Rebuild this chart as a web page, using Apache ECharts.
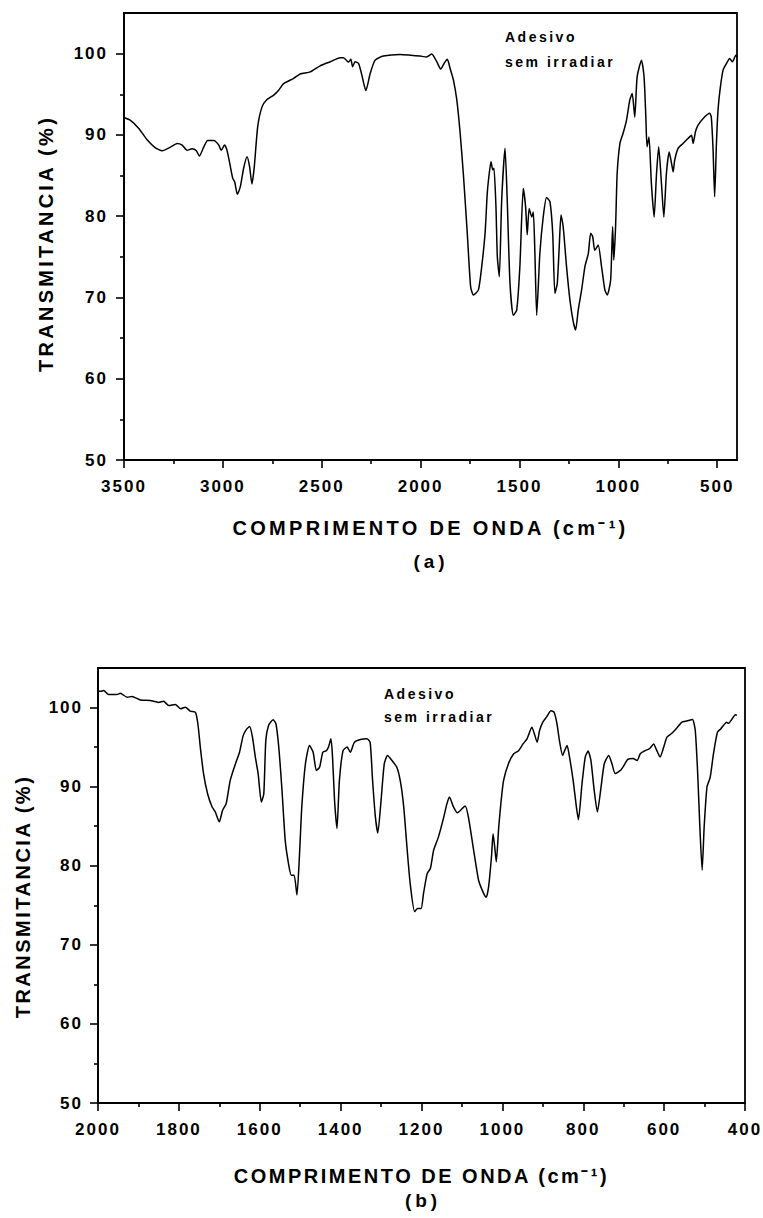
<!DOCTYPE html>
<html>
<head>
<meta charset="utf-8">
<script src="https://cdn.jsdelivr.net/npm/echarts@6/dist/echarts.min.js"></script>
<style>
  html, body { margin: 0; padding: 0; background: #fff; }
  #chart { width: 763px; height: 1218px; }
  /* spaced-out lettering, keyed on the font size of each text group (SVG renderer) */
  #chart text[style*="17px"] { letter-spacing: 2px; }
  #chart text[style*="20px"] { letter-spacing: 3.3px; }
  #chart text[style*="20.01px"] { letter-spacing: 2.5px; }
  #chart text[style*="14px"] { letter-spacing: 2.5px; }
  #chart text[style*="19px"] { letter-spacing: 4px; }
</style>
</head>
<body>
<div id="chart"></div>
<script>
// FTIR spectrum, full range (panel a)
const wavenumberA = [
  3500, 3467, 3425, 3383, 3341, 3307, 3265, 3231, 3206, 3181, 3156, 3134, 3119, 3097, 3077, 3046,
  3021, 3008, 2992, 2979, 2962, 2950, 2940, 2927, 2912, 2895, 2878, 2865, 2853, 2841, 2824, 2802,
  2777, 2743, 2718, 2693, 2642, 2609, 2558, 2508, 2457, 2407, 2390, 2365, 2353, 2344, 2331, 2314,
  2297, 2277, 2255, 2230, 2188, 2104, 2050, 2003, 1970, 1944, 1918, 1898, 1881, 1865, 1851, 1834,
  1817, 1800, 1784, 1764, 1747, 1733, 1708, 1691, 1674, 1663, 1653, 1644, 1635, 1629, 1619, 1612,
  1602, 1590, 1573, 1562, 1548, 1531, 1514, 1498, 1481, 1469, 1461, 1451, 1438, 1430, 1422, 1413,
  1397, 1380, 1363, 1346, 1332, 1321, 1309, 1299, 1290, 1279, 1262, 1245, 1228, 1216, 1203, 1186,
  1169, 1152, 1140, 1130, 1119, 1102, 1085, 1068, 1056, 1039, 1029, 1023, 1014, 1006, 992, 976,
  959, 942, 930, 917, 905, 883, 870, 861, 855, 845, 833, 819, 807, 796, 782, 770,
  757, 743, 731, 723, 715, 698, 673, 648, 630, 622, 610, 597, 572, 538, 530, 521,
  513, 504, 496, 484, 470, 453, 437, 423, 406, 400
];
const transmittanceA = [
  92.15, 91.8, 90.8, 89.4, 88.4, 88.05, 88.5, 88.95, 88.75, 88.1, 88.3, 88.05, 87.4, 88.5, 89.3, 89.3,
  88.75, 88.1, 88.75, 88.1, 86.1, 84.65, 84.2, 82.7, 83.6, 85.9, 87.3, 86.1, 83.95, 86.1, 91.0, 93.45,
  94.35, 94.9, 95.5, 96.3, 96.95, 97.5, 97.75, 98.5, 99.0, 99.5, 99.5, 98.95, 99.3, 98.4, 99.0, 98.8,
  97.35, 95.45, 97.55, 99.2, 99.7, 99.9, 99.8, 99.7, 99.6, 99.95, 99.0, 98.1, 98.8, 99.3, 98.2, 96.75,
  94.3, 90.2, 85.25, 77.9, 71.3, 70.3, 70.9, 73.8, 77.9, 82.8, 85.25, 86.7, 85.7, 85.9, 81.15, 75.0,
  72.55, 82.0, 88.35, 82.0, 71.75, 67.8, 68.45, 73.8, 83.4, 81.15, 77.7, 80.95, 79.9, 80.5, 75.4, 67.8,
  75.4, 79.9, 82.3, 81.8, 77.9, 70.5, 71.7, 76.25, 80.15, 78.7, 73.8, 69.7, 67.0, 66.0, 68.45, 70.9,
  73.8, 75.4, 77.9, 77.5, 75.8, 76.45, 73.8, 70.9, 70.3, 72.15, 78.7, 74.6, 78.7, 85.25, 88.95, 90.2,
  91.8, 94.3, 95.1, 92.2, 97.15, 99.2, 97.15, 92.2, 88.55, 89.75, 84.0, 79.9, 85.25, 88.55, 84.0, 79.9,
  85.25, 87.9, 86.5, 85.45, 86.9, 88.35, 88.95, 89.55, 89.95, 88.95, 90.4, 91.2, 92.0, 92.65, 92.2, 88.15,
  82.4, 88.95, 93.05, 95.9, 98.0, 98.8, 99.4, 99.0, 99.8, 99.6
];

// FTIR spectrum, fingerprint region (panel b)
const wavenumberB = [
  2000, 1994, 1986, 1974, 1953, 1945, 1928, 1916, 1895, 1871, 1850, 1838, 1825, 1809, 1796, 1784,
  1772, 1759, 1753, 1747, 1739, 1729, 1718, 1710, 1700, 1692, 1683, 1673, 1660, 1650, 1641, 1632,
  1625, 1618, 1611, 1604, 1596, 1590, 1585, 1578, 1567, 1560, 1553, 1545, 1537, 1529, 1522, 1515,
  1508, 1502, 1496, 1487, 1477, 1468, 1460, 1452, 1444, 1435, 1430, 1424, 1420, 1415, 1409, 1403,
  1394, 1384, 1376, 1366, 1351, 1335, 1327, 1321, 1314, 1308, 1300, 1292, 1284, 1273, 1261, 1252,
  1244, 1236, 1228, 1217, 1210, 1201, 1195, 1186, 1178, 1170, 1158, 1145, 1137, 1131, 1121, 1111,
  1100, 1092, 1084, 1071, 1059, 1048, 1040, 1034, 1027, 1023, 1019, 1015, 1009, 1003, 997, 985,
  972, 960, 949, 939, 927, 921, 914, 908, 900, 890, 880, 872, 865, 859, 851, 846,
  840, 834, 825, 817, 812, 803, 795, 788, 781, 773, 765, 756, 748, 737, 729, 721,
  708, 699, 690, 677, 667, 659, 647, 636, 626, 618, 610, 601, 593, 581, 568, 556,
  544, 530, 523, 517, 512, 506, 501, 494, 486, 478, 468, 460, 453, 446, 441, 432,
  424, 420
];
const transmittanceB = [
  102.1, 102.05, 102.15, 101.65, 101.65, 101.8, 101.3, 101.4, 100.95, 100.9, 100.65, 100.8, 100.25, 100.4, 99.85, 100.05,
  99.55, 99.4, 97.95, 95.0, 91.65, 89.1, 87.45, 86.8, 85.55, 87.0, 87.85, 90.8, 92.9, 94.35, 96.45, 97.3,
  97.6, 96.25, 93.75, 91.65, 88.05, 89.1, 95.85, 97.75, 98.45, 97.95, 95.0, 89.55, 83.2, 80.3, 78.8, 78.8,
  76.3, 81.1, 87.45, 92.9, 95.2, 94.35, 92.05, 92.45, 94.35, 94.55, 95.0, 96.05, 93.75, 88.25, 84.7, 90.8,
  94.55, 95.0, 94.35, 95.6, 95.95, 96.05, 95.6, 90.8, 86.15, 84.15, 88.25, 92.9, 93.95, 93.3, 92.45, 90.6,
  87.45, 82.4, 77.75, 74.2, 74.6, 74.6, 76.5, 79.0, 79.65, 81.95, 83.65, 86.15, 87.85, 88.7, 87.45, 86.7,
  87.2, 87.55, 86.15, 81.95, 78.2, 76.7, 76.0, 77.35, 81.1, 84.05, 82.4, 80.5, 84.9, 88.25, 90.8, 92.9,
  94.15, 94.55, 95.4, 96.05, 97.5, 96.7, 95.6, 97.1, 98.15, 98.85, 99.6, 99.4, 97.95, 95.85, 93.95, 94.55,
  95.2, 93.75, 90.8, 87.45, 85.8, 90.4, 93.75, 94.5, 93.3, 89.55, 86.8, 89.95, 92.9, 93.95, 92.9, 91.65,
  92.05, 92.7, 93.45, 93.55, 93.3, 94.15, 94.55, 94.8, 95.4, 94.55, 93.75, 95.0, 96.25, 96.75, 97.45, 98.15,
  98.3, 98.5, 97.1, 91.65, 85.35, 79.45, 84.9, 89.95, 91.2, 94.15, 96.9, 97.3, 97.75, 98.15, 98.0, 98.55,
  99.1, 99.0
];

// axis ticks
const xMajorTicksA = [500, 1000, 1500, 2000, 2500, 3000, 3500];
const xMinorTicksA = [750, 1250, 1750, 2250, 2750, 3250];
const xMajorTicksB = [400, 600, 800, 1000, 1200, 1400, 1600, 1800, 2000];
const xMinorTicksB = [500, 700, 900, 1100, 1300, 1500, 1700, 1900];
const yMajorTicks = [50, 60, 70, 80, 90, 100];
const yMinorTicks = [55, 65, 75, 85, 95];

// text
const xTitle = 'COMPRIMENTO DE ONDA (cm\u207B\u00B9)';
const yTitle = 'TRANSMITANCIA (%)';
const sampleNote = ['Adesivo', 'sem irradiar'];
const panelLabels = ['(a)', '(b)'];

const FONT = '"Liberation Sans", Arial, Helvetica, sans-serif';
const INK = '#000';

function pairs(xs, ys) {
  return xs.map((x, i) => [x, ys[i]]);
}

// plain integers, no thousands separator
const plainNumber = (v) => String(Math.round(v));

function majorX(gridIndex, min, max, ticks, titleSize, nameGap) {
  return {
    gridIndex, type: 'value', min, max, inverse: true, position: 'bottom',
    axisLine: { show: true, onZero: false, lineStyle: { color: INK, width: 1.8 } },
    axisTick: { show: true, inside: false, length: 8, customValues: ticks, lineStyle: { color: INK, width: 1.6 } },
    axisLabel: { show: true, customValues: ticks, formatter: plainNumber, margin: 18, color: INK, fontSize: 17, fontWeight: 'bold', fontFamily: FONT },
    splitLine: { show: false },
    name: xTitle, nameLocation: 'middle', nameGap,
    nameTextStyle: { color: INK, fontSize: titleSize, fontWeight: 'bold', fontFamily: FONT }
  };
}

function minorX(gridIndex, min, max, ticks) {
  return {
    gridIndex, type: 'value', min, max, inverse: true, position: 'bottom',
    axisLine: { show: false },
    axisTick: { show: true, inside: false, length: 4, customValues: ticks, lineStyle: { color: INK, width: 1.6 } },
    axisLabel: { show: false },
    splitLine: { show: false }
  };
}

function majorY(gridIndex, titleSize, nameGap, margin, shift) {
  return {
    gridIndex, type: 'value', min: 50, max: 105, position: 'left',
    axisLine: { show: true, onZero: false, lineStyle: { color: INK, width: 1.8 } },
    axisTick: { show: true, inside: false, length: 8, customValues: yMajorTicks, lineStyle: { color: INK, width: 1.6 } },
    axisLabel: { show: true, customValues: yMajorTicks, formatter: plainNumber, margin, color: INK, fontSize: 17, fontWeight: 'bold', fontFamily: FONT },
    splitLine: { show: false },
    name: yTitle, nameLocation: 'middle', nameGap, nameRotate: 90,
    nameTextStyle: { color: INK, fontSize: titleSize, fontWeight: 'bold', fontFamily: FONT, padding: [0, shift, 0, 0] }
  };
}

function minorY(gridIndex) {
  return {
    gridIndex, type: 'value', min: 50, max: 105, position: 'left',
    axisLine: { show: false },
    axisTick: { show: true, inside: false, length: 4, customValues: yMinorTicks, lineStyle: { color: INK, width: 1.6 } },
    axisLabel: { show: false },
    splitLine: { show: false }
  };
}

function note(x, y, text, size) {
  return {
    type: 'text', x, y, silent: true,
    style: {
      text, fill: INK, font: 'bold ' + size + 'px ' + FONT,
      fontSize: size, fontWeight: 'bold', fontFamily: FONT,
      align: 'left', verticalAlign: 'middle', textAlign: 'left', textVerticalAlign: 'middle'
    }
  };
}

function centered(x, y, text, size) {
  const t = note(x, y, text, size);
  t.style.align = 'center';
  t.style.textAlign = 'center';
  return t;
}

const chart = echarts.init(document.getElementById('chart'), null, { renderer: 'svg' });

chart.setOption({
  animation: false,
  backgroundColor: '#fff',
  grid: [
    { left: 124, right: 26, top: 13, bottom: 758, show: true, borderColor: INK, borderWidth: 1.8, backgroundColor: 'transparent' },
    { left: 98, right: 18, top: 668, bottom: 115, show: true, borderColor: INK, borderWidth: 1.8, backgroundColor: 'transparent' }
  ],
  xAxis: [
    majorX(0, 400, 3500, xMajorTicksA, 20, 58),
    minorX(0, 400, 3500, xMinorTicksA),
    majorX(1, 400, 2000, xMajorTicksB, 20.01, 63),
    minorX(1, 400, 2000, xMinorTicksB)
  ],
  yAxis: [
    majorY(0, 20, 68, 16, 14),
    minorY(0),
    majorY(1, 20.01, 65, 15, 22),
    minorY(1)
  ],
  series: [
    {
      type: 'line', xAxisIndex: 0, yAxisIndex: 0,
      data: pairs(wavenumberA, transmittanceA),
      symbol: 'none', showSymbol: false, smooth: 0.2, silent: true,
      lineStyle: { color: INK, width: 1.5 }
    },
    {
      type: 'line', xAxisIndex: 2, yAxisIndex: 2,
      data: pairs(wavenumberB, transmittanceB),
      symbol: 'none', showSymbol: false, smooth: 0.2, silent: true,
      lineStyle: { color: INK, width: 1.5 }
    }
  ],
  graphic: [
    note(505, 37, sampleNote[0], 14),
    note(505, 62, sampleNote[1], 14),
    note(384, 694, sampleNote[0], 14),
    note(384, 717, sampleNote[1], 14),
    centered(431, 561, panelLabels[0], 19),
    centered(423, 1200, panelLabels[1], 19)
  ]
});
</script>
</body>
</html>
